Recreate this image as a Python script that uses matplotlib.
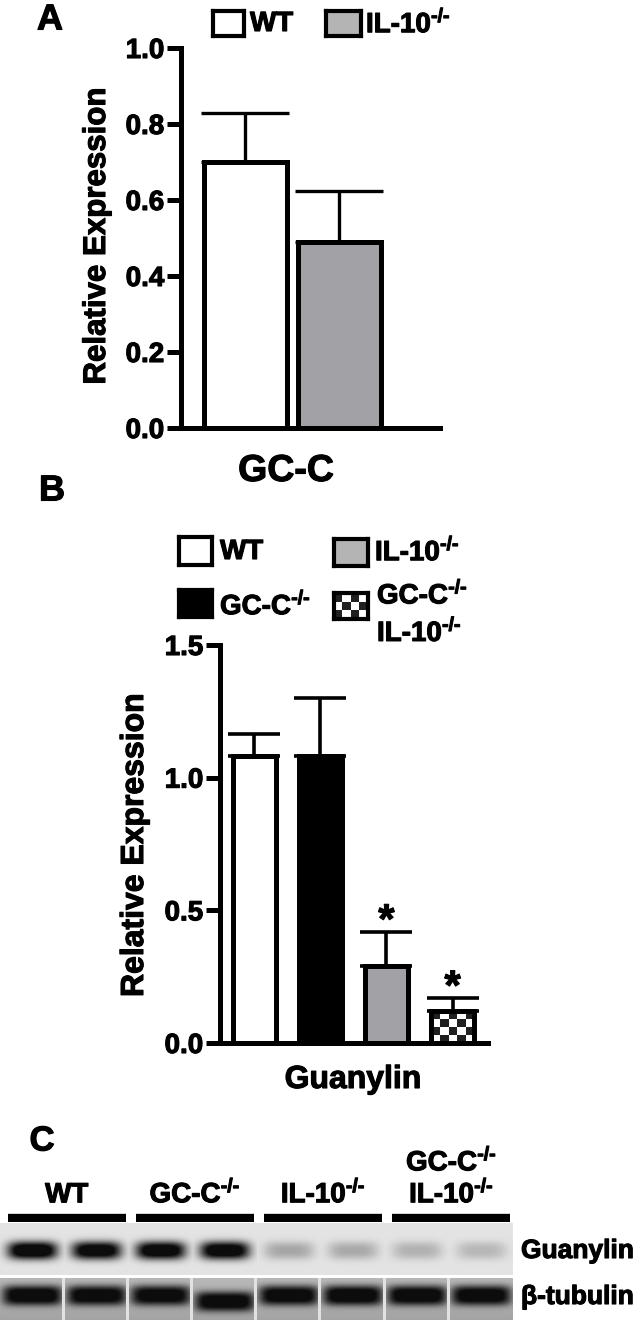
import numpy as np
import matplotlib
matplotlib.use("Agg")
import matplotlib.pyplot as plt
import matplotlib.patheffects as pe

# ---------------- data ----------------
a_groups = ["WT", "IL-10$^{\\text{-/-}}$"]
a_means = [0.70, 0.49]
a_tops = [0.83, 0.625]          # top of upper error bar
a_colors = ["white", "#a2a2a6"]
a_ticks = [0.0, 0.2, 0.4, 0.6, 0.8, 1.0]

b_groups = ["WT", "GC-C$^{\\text{-/-}}$", "IL-10$^{\\text{-/-}}$", "GC-C$^{\\text{-/-}}$\nIL-10$^{\\text{-/-}}$"]
b_means = [1.08, 1.08, 0.29, 0.12]
b_tops = [1.165, 1.30, 0.42, 0.17]
b_colors = ["white", "black", "#a2a2a6", "checker"]
b_signif = [False, False, True, True]
b_ticks = [0.0, 0.5, 1.0, 1.5]

# western blot (panel C): relative band darkness per lane (0 = none, 1 = black)
c_groups = ["WT", "GC-C$^{\\text{-/-}}$", "IL-10$^{\\text{-/-}}$", "GC-C$^{\\text{-/-}}$\nIL-10$^{\\text{-/-}}$"]
guanylin_band = [1.0, 0.95, 0.97, 0.96, 0.22, 0.21, 0.18, 0.16]
tubulin_band = [0.98, 0.96, 0.95, 0.97, 0.96, 0.99, 0.98, 0.97]
tubulin_shift = [0, 0, 0, 6, 0, 0, 0, 0]   # px downward shift of band
blot_rows = ["Guanylin", "\u03b2-tubulin"]

# ---------------- style ----------------
W, H = 642, 1327
plt.rcParams["font.family"] = ["Liberation Sans", "DejaVu Sans"]
plt.rcParams["font.weight"] = "bold"
plt.rcParams["mathtext.fontset"] = "custom"
plt.rcParams["mathtext.rm"] = "Liberation Sans:bold"
plt.rcParams["mathtext.bf"] = "Liberation Sans:bold"
plt.rcParams["mathtext.it"] = "Liberation Sans:bold"

HEAVY = [pe.withStroke(linewidth=0.8, foreground="black")]

fig = plt.figure(figsize=(W / 100, H / 100), dpi=100)


def fx(px):
    return px / W


def fy(py):
    return 1 - py / H


def ftext(x, y, s, **kw):
    kw.setdefault("fontweight", "bold")
    t = fig.text(fx(x), fy(y), s, **kw)
    t.set_path_effects(HEAVY)
    return t


def box_axes(x0, y0, x1, y1):
    return fig.add_axes([fx(x0), fy(y1), fx(x1 - x0), (y1 - y0) / H])


LW = 3.6


def style_axes(ax, ticks, top):
    for s in ["top", "right"]:
        ax.spines[s].set_visible(False)
    for s in ["left", "bottom"]:
        ax.spines[s].set_linewidth(LW)
    ax.set_ylim(0, top)
    ax.set_yticks(ticks)
    labs = ax.set_yticklabels([f"{t:.1f}" for t in ticks], fontsize=20, fontweight="bold")
    for l in labs:
        l.set_path_effects(HEAVY)
    ax.tick_params(axis="y", direction="out", length=10, width=LW, pad=2)
    ax.set_xticks([])


def checker(ax, extent, nx, ny, clip=None, z=2):
    arr = (np.add.outer(np.arange(ny), np.arange(nx)) % 2).astype(float)
    im = ax.imshow(arr, cmap="gray", vmin=-0.15, vmax=1.0, extent=extent,
                   aspect="auto", interpolation="nearest", zorder=z)
    if clip is not None:
        im.set_clip_path(clip)
    return im


def legend_box(x0, y0, x1, y1, face, lw=3.0):
    bx = box_axes(x0, y0, x1, y1)
    bx.set_xticks([]); bx.set_yticks([])
    for s in bx.spines.values():
        s.set_linewidth(lw)
    if face == "checker":
        bx.set_xlim(0, 1); bx.set_ylim(0, 1)
        checker(bx, (0, 1, 0, 1), 4, 3)
    else:
        bx.set_facecolor(face)


# ---------------- panel A ----------------
axA = box_axes(181, 48, 440, 428)
xa = np.arange(len(a_means))
wa = 0.883
axA.bar(xa, a_means, width=wa, color=a_colors, edgecolor="black", linewidth=LW, zorder=3)
axA.errorbar(xa, a_means, yerr=[np.zeros(2), np.array(a_tops) - np.array(a_means)],
             fmt="none", ecolor="black", elinewidth=2.4, capsize=32, capthick=2.4, zorder=2)
axA.set_xlim(-0.681, 2.074)
style_axes(axA, a_ticks, 1.0)
ftext(97, 236, "Relative Expression", rotation=90, ha="center", va="center", fontsize=22.5)
ftext(286, 471, "GC-C", ha="center", va="center", fontsize=27)
ftext(50, 20, "A", ha="center", va="center", fontsize=26)

legend_box(213, 11, 244, 36, a_colors[0])
ftext(250, 24, a_groups[0], ha="left", va="center", fontsize=20)
legend_box(326, 11, 361, 36, "#b4b4b4")
ftext(366, 24, a_groups[1], ha="left", va="center", fontsize=20)

# ---------------- panel B ----------------
axB = box_axes(220, 645, 488, 1043)
xb = np.arange(len(b_means))
wb = 0.65
faces = ["black" if c == "checker" else c for c in b_colors]
bars = axB.bar(xb, b_means, width=wb, color=faces, edgecolor="black", linewidth=LW, zorder=3)
axB.errorbar(xb, b_means, yerr=[np.zeros(4), np.array(b_tops) - np.array(b_means)],
             fmt="none", ecolor="black", elinewidth=2.6, capsize=19, capthick=2.6, zorder=2)
axB.set_xlim(-0.514, 3.536)
style_axes(axB, b_ticks, 1.5)
for i, c in enumerate(b_colors):
    if c == "checker":
        x0 = xb[i] - wb / 2
        checker(axB, (x0, x0 + wb, 0, b_means[i]), 5, 4, clip=bars[i], z=3.5)
        axB.bar(xb[i], b_means[i], width=wb, color="none", edgecolor="black",
                linewidth=LW, zorder=4)
for i, s in enumerate(b_signif):
    if s:
        t = axB.annotate("*", (xb[i], b_tops[i]), xytext=(0, -1), textcoords="offset points",
                         ha="center", va="baseline", fontsize=30, fontweight="bold")
        t.set_path_effects(HEAVY)
ftext(135, 845, "Relative Expression", rotation=90, ha="center", va="center", fontsize=23)
ftext(353, 1080, "Guanylin", ha="center", va="center", fontsize=23)
ftext(52, 491, "B", ha="center", va="center", fontsize=26)

legend_box(179, 537, 212, 565, b_colors[0])
ftext(220, 552, b_groups[0], ha="left", va="center", fontsize=20)
legend_box(334, 539, 368, 566, "#b4b4b4")
ftext(375, 552, b_groups[2], ha="left", va="center", fontsize=20)
legend_box(179, 590, 212, 617, b_colors[1])
ftext(220, 606, b_groups[1], ha="left", va="center", fontsize=20)
legend_box(334, 593, 368, 619, "checker")
ftext(377, 614, b_groups[3], ha="left", va="center", fontsize=20, linespacing=1.4)

# ---------------- panel C (western blot) ----------------
ftext(42, 1141, "C", ha="center", va="center", fontsize=25)

lane_w = 64.1
n_lanes = len(guanylin_band)
blot_w = int(round(lane_w * n_lanes))
g_h, sep_h, t_h = 52, 3, 42
img = np.ones((g_h + sep_h + t_h, blot_w))
xs = np.arange(blot_w)
lane_idx = np.minimum((xs // lane_w).astype(int), n_lanes - 1)
dx = (xs - (lane_idx + 0.5) * lane_w) / 25.0
yy_g = (np.arange(g_h) - 27) / 9.0
for j in range(blot_w):
    d = guanylin_band[lane_idx[j]]
    prof = np.clip(1.3 * d * np.exp(-np.abs(dx[j]) ** 4) * np.exp(-np.abs(yy_g) ** 2.5), 0, 1)
    img[:g_h, j] = 0.89 - (0.89 - 0.05) * prof
for j in range(blot_w):
    d = tubulin_band[lane_idx[j]]
    yy_t = (np.arange(t_h) - 17 - tubulin_shift[lane_idx[j]]) / 10.0
    base = 0.72 - 0.08 * (np.arange(t_h) / t_h)
    prof = np.clip(1.2 * d * np.exp(-np.abs(dx[j] * 25 / 30.0) ** 6) * np.exp(-np.abs(yy_t) ** 3), 0, 1)
    img[g_h + sep_h:, j] = base - (base - 0.05) * prof
# lane gaps in tubulin strip
for k in range(1, n_lanes):
    c = int(round(k * lane_w))
    img[g_h + sep_h:, c - 2:c + 1] = 0.88

axC = box_axes(0, 1223, blot_w, 1320)
axC.imshow(img, cmap="gray", vmin=0, vmax=1, aspect="auto", interpolation="bilinear")
axC.axis("off")

ftext(521, 1251, blot_rows[0], ha="left", va="center", fontsize=19)
ftext(521, 1297, blot_rows[1], ha="left", va="center", fontsize=19)

# group label bars
axL = box_axes(0, 1150, blot_w, 1222)
axL.set_xlim(0, n_lanes)
axL.set_ylim(0, 1)
axL.axis("off")
for g, lab in enumerate(c_groups):
    x0, x1 = 2 * g + 0.12, 2 * g + 1.96
    axL.plot([x0, x1], [0.06, 0.06], color="black", lw=6, solid_capstyle="butt")
    t = axL.text(2 * g + 1.04, 0.19, lab, ha="center", va="bottom", fontsize=20,
                 fontweight="bold", linespacing=1.15)
    t.set_path_effects(HEAVY)

fig.savefig("out.png", dpi=100)
